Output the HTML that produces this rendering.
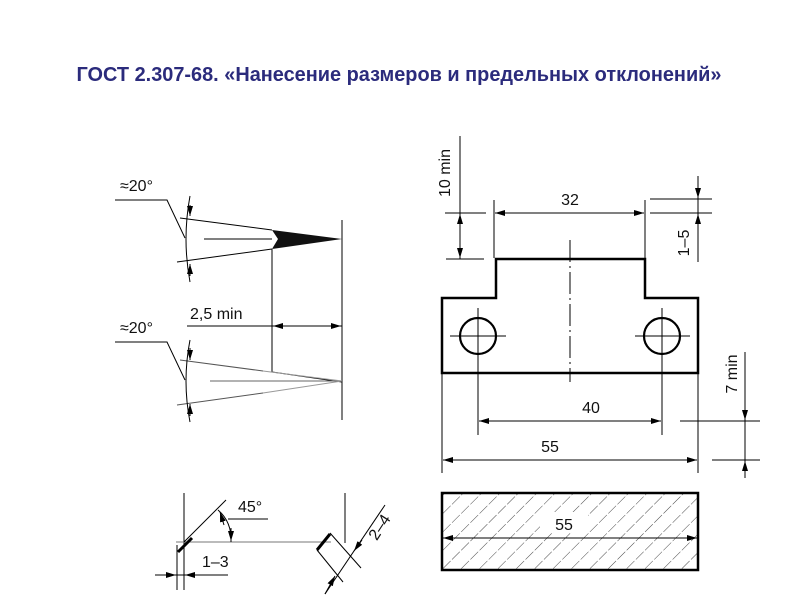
<!DOCTYPE html>
<html><head><meta charset="utf-8"><style>
html,body{margin:0;padding:0;background:#fff;width:800px;height:600px;overflow:hidden}
svg{display:block}
.t{font-family:"Liberation Sans","DejaVu Sans",sans-serif;fill:#111}
</style></head><body>
<svg width="800" height="600" viewBox="0 0 800 600" xmlns="http://www.w3.org/2000/svg">
<defs>
<marker id="a" viewBox="0 0 10 6" refX="10" refY="3" markerWidth="10" markerHeight="6" markerUnits="userSpaceOnUse" orient="auto-start-reverse"><path d="M0,0 L10,3 L0,6 z" fill="#000"/></marker>
<pattern id="h" patternUnits="userSpaceOnUse" width="13" height="13" patternTransform="rotate(45)"><line x1="0" y1="0" x2="0" y2="13" stroke="#333" stroke-width="0.9" stroke-dasharray="11 2"/></pattern>
</defs>
<text x="399" y="81" text-anchor="middle" font-family="Liberation Sans, sans-serif" font-weight="bold" font-size="20" fill="#2b2b7c" textLength="645" lengthAdjust="spacingAndGlyphs">ГОСТ 2.307-68. «Нанесение размеров и предельных отклонений»</text>

<g stroke="#000" stroke-width="1" fill="none">
<polyline points="115,200 167,200 185,238"/>
<line x1="180" y1="218" x2="272" y2="230"/>
<line x1="177" y1="262" x2="272" y2="249"/>
<line x1="204" y1="239" x2="272" y2="239"/>
<path d="M190,196 Q182,239 190,282"/>
<line x1="190" y1="205" x2="190" y2="216" marker-end="url(#a)"/>
<line x1="190" y1="276" x2="190" y2="264" marker-end="url(#a)"/>
<line x1="342" y1="220" x2="342" y2="420"/>
<polyline points="272,249 272,372 342,382"/>
<line x1="187" y1="326" x2="342" y2="326"/>
<line x1="290" y1="326" x2="273" y2="326" marker-end="url(#a)"/>
<line x1="325" y1="326" x2="341" y2="326" marker-end="url(#a)"/>
<polyline points="115,342 167,342 185,380"/>
<line x1="180" y1="360" x2="263" y2="371" stroke="#555"/>
<line x1="177" y1="405" x2="263" y2="393" stroke="#555"/>
<line x1="210" y1="381" x2="342" y2="381" stroke="#666"/>
<line x1="263" y1="371" x2="342" y2="381" stroke="#999"/>
<line x1="263" y1="393" x2="342" y2="381" stroke="#999"/>
<path d="M190,340 Q182,381 190,422"/>
<line x1="190" y1="348" x2="190" y2="360" marker-end="url(#a)"/>
<line x1="190" y1="416" x2="190" y2="404" marker-end="url(#a)"/>
</g>
<path d="M272,230 L342,239 L272,249 L278,239 z" fill="#111"/>
<text class="t" x="120" y="191" font-size="16">≈20°</text>
<text class="t" x="120" y="333" font-size="16">≈20°</text>
<text class="t" x="190" y="319" font-size="16">2,5  min</text>

<path d="M496,259 H645 V298 H698 V373 H442 V298 H496 Z" fill="none" stroke="#000" stroke-width="2.5"/>
<circle cx="478" cy="336" r="18" fill="none" stroke="#000" stroke-width="2.2"/>
<circle cx="662" cy="336" r="18" fill="none" stroke="#000" stroke-width="2.2"/>
<g stroke="#000" stroke-width="1" fill="none">
<line x1="450" y1="336" x2="506" y2="336"/><line x1="478" y1="308" x2="478" y2="435"/>
<line x1="635" y1="336" x2="690" y2="336"/><line x1="662" y1="308" x2="662" y2="435"/>
<line x1="570" y1="240" x2="570" y2="382" stroke-dasharray="22 4 2 4"/>
<line x1="460" y1="136" x2="460" y2="259"/>
<line x1="445" y1="213" x2="486" y2="213"/><line x1="446" y1="259" x2="484" y2="259"/>
<line x1="460" y1="230" x2="460" y2="214" marker-end="url(#a)"/>
<line x1="460" y1="242" x2="460" y2="258" marker-end="url(#a)"/>
<line x1="494" y1="200" x2="494" y2="258"/><line x1="645" y1="200" x2="645" y2="258"/>
<line x1="495" y1="213" x2="644" y2="213"/>
<line x1="510" y1="213" x2="495" y2="213" marker-end="url(#a)"/>
<line x1="629" y1="213" x2="644" y2="213" marker-end="url(#a)"/>
<line x1="698" y1="176" x2="698" y2="262"/>
<line x1="650" y1="199" x2="712" y2="199"/><line x1="650" y1="213" x2="712" y2="213"/>
<line x1="698" y1="182" x2="698" y2="198" marker-end="url(#a)"/>
<line x1="698" y1="230" x2="698" y2="214" marker-end="url(#a)"/>
<line x1="479" y1="421" x2="661" y2="421"/>
<line x1="494" y1="421" x2="479" y2="421" marker-end="url(#a)"/>
<line x1="646" y1="421" x2="661" y2="421" marker-end="url(#a)"/>
<line x1="442" y1="373" x2="442" y2="473"/><line x1="698" y1="373" x2="698" y2="473"/>
<line x1="443" y1="460" x2="697" y2="460"/>
<line x1="458" y1="460" x2="443" y2="460" marker-end="url(#a)"/>
<line x1="682" y1="460" x2="697" y2="460" marker-end="url(#a)"/>
<line x1="745" y1="352" x2="745" y2="478"/>
<line x1="680" y1="421" x2="760" y2="421"/><line x1="712" y1="460" x2="760" y2="460"/>
<line x1="745" y1="404" x2="745" y2="420" marker-end="url(#a)"/>
<line x1="745" y1="477" x2="745" y2="461" marker-end="url(#a)"/>
</g>
<text class="t" x="570" y="205" font-size="16" text-anchor="middle">32</text>
<text class="t" x="591" y="413" font-size="16" text-anchor="middle">40</text>
<text class="t" x="550" y="452" font-size="16" text-anchor="middle">55</text>
<text class="t" font-size="16" text-anchor="middle" transform="translate(450,173) rotate(-90)">10  min</text>
<text class="t" font-size="16" text-anchor="middle" transform="translate(689,243) rotate(-90)">1–5</text>
<text class="t" font-size="16" text-anchor="middle" transform="translate(737,374) rotate(-90)">7  min</text>

<g stroke="#000" stroke-width="1" fill="none">
<line x1="184" y1="493" x2="184" y2="590"/>
<line x1="177" y1="545" x2="177" y2="590"/>
<line x1="345" y1="493" x2="345" y2="543"/>
<line x1="176" y1="542" x2="331" y2="542" stroke="#777"/>
<line x1="184" y1="542" x2="226" y2="500"/>
<path d="M218,510 Q232,522 231,542"/>
<line x1="224" y1="525" x2="220" y2="512" marker-end="url(#a)"/>
<line x1="231" y1="528" x2="231" y2="541" marker-end="url(#a)"/>
<line x1="228" y1="519" x2="268" y2="519"/>
<line x1="155" y1="575" x2="228" y2="575"/>
<line x1="162" y1="575" x2="176" y2="575" marker-end="url(#a)"/>
<line x1="198" y1="575" x2="185" y2="575" marker-end="url(#a)"/>
<line x1="330" y1="533" x2="361" y2="568"/>
<line x1="317" y1="550" x2="343" y2="582"/>
<line x1="325" y1="594" x2="385" y2="505"/>
<line x1="325" y1="594" x2="335" y2="576" marker-end="url(#a)"/>
<line x1="362" y1="540" x2="354" y2="551" marker-end="url(#a)"/>
</g>
<line x1="178" y1="552" x2="192" y2="538" stroke="#000" stroke-width="3"/>
<line x1="317" y1="550" x2="330" y2="534" stroke="#000" stroke-width="3"/>
<text class="t" x="238" y="512" font-size="16">45°</text>
<text class="t" x="202" y="567" font-size="16">1–3</text>
<text class="t" font-size="16" text-anchor="middle" transform="translate(384,530) rotate(-57)">2–4</text>

<rect x="442" y="493" width="256" height="77" fill="url(#h)" stroke="#000" stroke-width="2.5"/>
<rect x="540" y="512" width="48" height="20" fill="#fff"/>
<g stroke="#000" stroke-width="1">
<line x1="443" y1="538" x2="697" y2="538"/>
<line x1="458" y1="538" x2="443" y2="538" marker-end="url(#a)"/>
<line x1="682" y1="538" x2="697" y2="538" marker-end="url(#a)"/>
</g>
<text class="t" x="564" y="530" font-size="16" text-anchor="middle">55</text>
</svg>
</body></html>
